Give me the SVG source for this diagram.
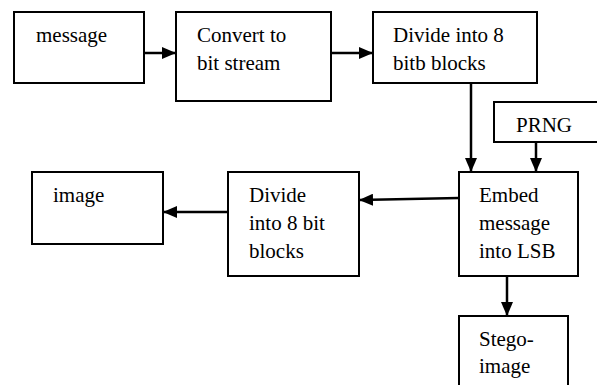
<svg xmlns="http://www.w3.org/2000/svg" width="597" height="385" viewBox="0 0 597 385">
<style>
.box{fill:#fff;stroke:#000;stroke-width:2}
.c{fill:none;stroke:#000;stroke-width:2.5}
</style>
<defs>
<marker id="ah" markerWidth="14" markerHeight="12" refX="14" refY="6" orient="auto" markerUnits="userSpaceOnUse">
<path d="M0,0 L14,6 L0,12 Z" fill="#000"/>
</marker>
</defs>
<rect width="597" height="385" fill="#fff"/>
<g font-family="Times New Roman, Liberation Serif, serif" font-size="21" fill="#000">
<g id="message"><rect class="box" x="14" y="12" width="130" height="71"/><text x="36" y="42">message</text></g>
<g id="convert"><rect class="box" x="176" y="12" width="155" height="89"/><text x="197" y="42">Convert to</text><text x="197" y="70">bit stream</text></g>
<g id="divide1"><rect class="box" x="373" y="12" width="164" height="71"/><text x="393" y="42">Divide into 8</text><text x="393" y="70">bitb blocks</text></g>
<g id="prng"><rect class="box" x="494" y="102" width="110" height="40"/><text x="516" y="132">PRNG</text></g>
<g id="embed"><rect class="box" x="459" y="172" width="119" height="104"/><text x="479" y="202">Embed</text><text x="479" y="230">message</text><text x="479" y="258">into LSB</text></g>
<g id="divide2"><rect class="box" x="228" y="172" width="131" height="104"/><text x="249" y="202">Divide</text><text x="249" y="230">into 8 bit</text><text x="249" y="258">blocks</text></g>
<g id="image"><rect class="box" x="32" y="172" width="131" height="72"/><text x="53" y="202">image</text></g>
<g id="stego"><rect class="box" x="459" y="316" width="109" height="80"/><text x="479" y="346">Stego-</text><text x="479" y="373">image</text></g>
</g>
<g id="connectors">
<line class="c" x1="144" y1="53" x2="176" y2="53" marker-end="url(#ah)"/>
<line class="c" x1="331" y1="53" x2="373" y2="53" marker-end="url(#ah)"/>
<line class="c" x1="471" y1="83" x2="471" y2="172" marker-end="url(#ah)"/>
<line class="c" x1="536" y1="142" x2="536" y2="172" marker-end="url(#ah)"/>
<line class="c" x1="459" y1="198" x2="359" y2="200" marker-end="url(#ah)"/>
<line class="c" x1="228" y1="212" x2="163" y2="212" marker-end="url(#ah)"/>
<line class="c" x1="507" y1="276" x2="507" y2="316" marker-end="url(#ah)"/>
</g>
</svg>
